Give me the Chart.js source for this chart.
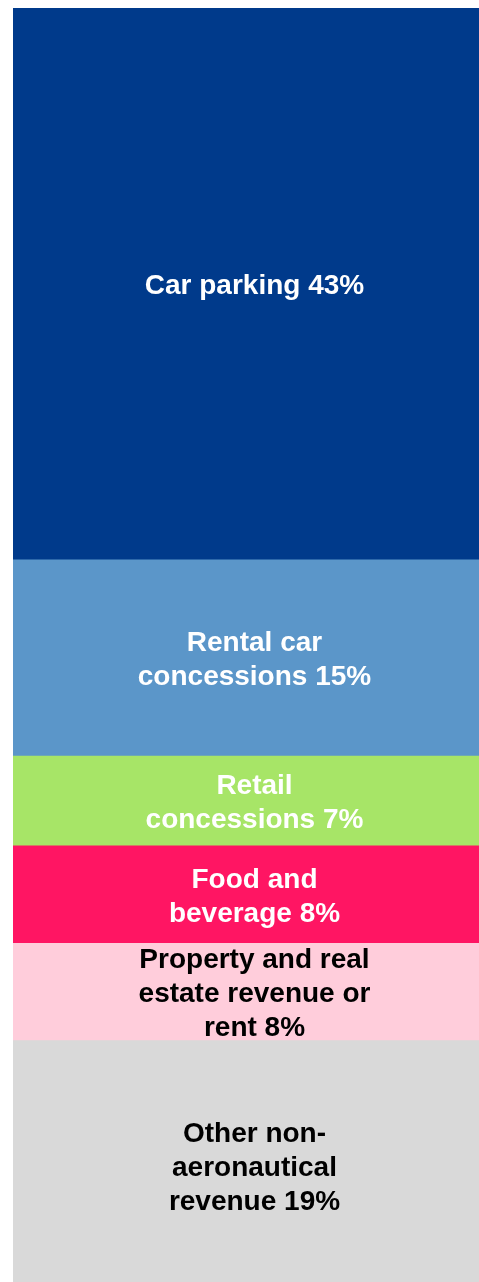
<!DOCTYPE html>
<html>
<head>
<meta charset="utf-8">
<title>Non-aeronautical revenue</title>
<script src="https://cdn.jsdelivr.net/npm/chart.js@4/dist/chart.umd.min.js"></script>
<style>
    html, body {
        margin: 0;
        padding: 0;
        background: #ffffff;
        overflow: hidden;
    }
    #chartWrap {
        position: absolute;
        left: 0;
        top: 0;
    }
</style>
</head>
<body>
<div id="chartWrap">
    <canvas id="revenueChart" width="496" height="1290"></canvas>
</div>
<script>
// segments, top to bottom
const categories = [
    "Car parking",
    "Rental car concessions",
    "Retail concessions",
    "Food and beverage",
    "Property and real estate revenue or rent",
    "Other non-aeronautical revenue",
];
// share of revenue (%), as measured from the bar
const shares = [43.0, 15.3, 7.0, 7.6, 7.6, 19.5];
// text printed inside each segment
const segmentLabels = [
    ["Car parking 43%"],
    ["Rental car", "concessions 15%"],
    ["Retail", "concessions 7%"],
    ["Food and", "beverage 8%"],
    ["Property and real", "estate revenue or", "rent 8%"],
    ["Other non-", "aeronautical", "revenue 19%"],
];
const fillColors = ["#003a8b", "#5b96c9", "#a7e567", "#ff1563", "#ffcddb", "#d9d9d9"];
const textColors = ["#ffffff", "#ffffff", "#ffffff", "#ffffff", "#000000", "#000000"];

const segmentText = {
    id: "segmentText",
    afterDatasetsDraw(chart) {
        const ctx = chart.ctx;
        ctx.save();
        ctx.font = "bold 28px 'Liberation Sans', Arial, sans-serif";
        ctx.textAlign = "center";
        ctx.textBaseline = "middle";
        chart.data.datasets.forEach((ds, i) => {
            const bar = chart.getDatasetMeta(i).data[0];
            if (!bar) return;
            const lines = segmentLabels[i];
            const lineH = 34;
            const cy = (bar.y + bar.base) / 2 + 3;
            const start = cy - (lines.length - 1) * lineH / 2;
            ctx.fillStyle = textColors[i];
            lines.forEach((line, j) => {
                ctx.fillText(line, bar.x, start + j * lineH);
            });
        });
        ctx.restore();
    },
};

const ctx = document.getElementById("revenueChart").getContext("2d");
new Chart(ctx, {
    type: "bar",
    data: {
        labels: ["Revenue"],
        datasets: categories.map((name, i) => ({
            label: name,
            data: [shares[i]],
            backgroundColor: fillColors[i],
            borderWidth: 0,
            categoryPercentage: 1,
            barPercentage: 1,
        })),
    },
    options: {
        responsive: false,
        animation: false,
        layout: {
            padding: { left: 13, top: 8, right: 0, bottom: 0 },
        },
        plugins: {
            legend: { display: false },
            tooltip: { enabled: false },
        },
        scales: {
            x: {
                stacked: true,
                display: false,
            },
            y: {
                stacked: true,
                reverse: true,
                min: 0,
                max: shares.reduce((a, b) => a + b, 0),
                display: false,
            },
        },
    },
    plugins: [segmentText],
});
</script>
</body>
</html>
